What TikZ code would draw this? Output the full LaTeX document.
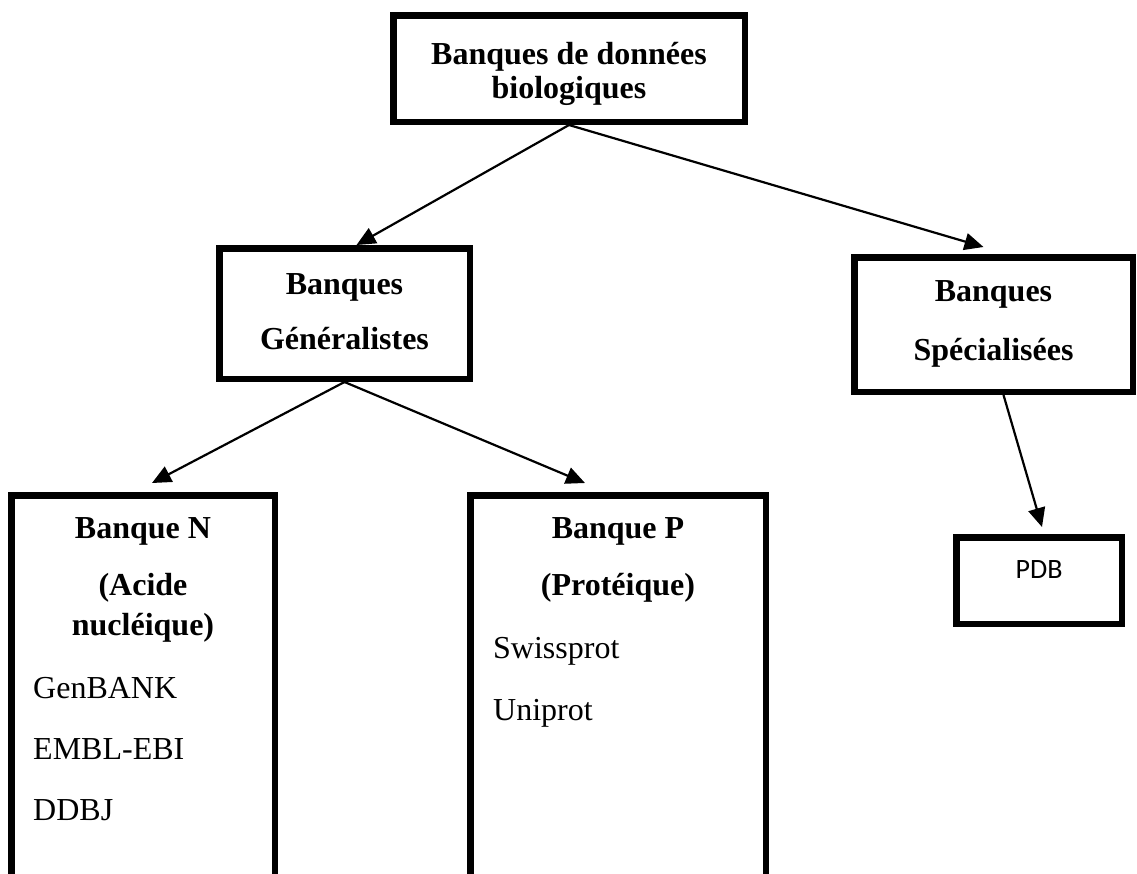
\documentclass[tikz,border=0pt]{standalone}
\usepackage{fontspec}
\setmainfont{Liberation Serif}
\newfontfamily\pdbfont{Carlito}
\usetikzlibrary{arrows.meta}
\begin{document}
\begin{tikzpicture}[x=1pt,y=-1pt,
  box/.style={draw=black, line width=6.5pt, rectangle, inner sep=0pt, outer sep=3.25pt},
  hd/.style={font=\fontsize{32}{38}\selectfont\bfseries, inner sep=0pt, anchor=base},
  item/.style={font=\fontsize{32}{38}\selectfont, inner sep=0pt, anchor=base west},
  pdbtxt/.style={font=\fontsize{28}{34}\selectfont\pdbfont, inner sep=0pt, anchor=base},
  arr/.style={-{Triangle[length=19pt,width=17pt]}, line width=2.2pt}
]
\useasboundingbox (0,0) rectangle (1137,873);
\fill[white] (0,0) rectangle (1137,873);
\clip (0,0) rectangle (1137,873);

% boxes
\node[box, minimum width=351.5pt, minimum height=106.5pt] (top) at (569,68.5) {};
\node[box, minimum width=250.5pt, minimum height=130.5pt] (gen) at (344.5,313.5) {};
\node[box, minimum width=278.5pt, minimum height=134.5pt] (spec) at (993.5,324.5) {};
\node[box, minimum width=165.5pt, minimum height=86.5pt] (pdb) at (1039,580.5) {};
\node[box, minimum width=263.5pt, minimum height=501.5pt] (nbox) at (143,746) {};
\node[box, minimum width=295.5pt, minimum height=501.5pt] (pbox) at (618,746) {};

% texts
\node[hd] (t1) at (569,64) {Banques de données};
\node[hd] (t2) at (569,98) {biologiques};
\node[hd] (g1) at (344.5,294) {Banques};
\node[hd] (g2) at (344.5,349) {Généralistes};
\node[hd] (s1) at (993.5,301) {Banques};
\node[hd] (s2) at (993.5,360) {Spécialisées};
\node[hd] (n1) at (143,538) {Banque N};
\node[hd] (n2) at (143,595) {(Acide};
\node[hd] (n3) at (143,635) {nucléique)};
\node[item] (n4) at (33,698) {GenBANK};
\node[item] (n5) at (33,759) {EMBL-EBI};
\node[item] (n6) at (33,820) {DDBJ};
\node[hd] (p1) at (618,538) {Banque P};
\node[hd] (p2) at (618,595) {(Protéique)};
\node[item] (p3) at (493,658) {Swissprot};
\node[item] (p4) at (493,720) {Uniprot};
\node[pdbtxt] (pd) at (1039,578) {PDB};

% connectors
\draw[arr] (top.south) -- ([xshift=12pt]gen.north);
\draw[arr] (top.south) -- ([xshift=-10pt,yshift=7pt]spec.north);
\draw[arr] (gen.south) -- ([xshift=9pt,yshift=9pt]nbox.north);
\draw[arr] (gen.south) -- ([xshift=-33pt,yshift=9pt]pbox.north);
\draw[arr] ([xshift=10pt]spec.south) -- ([xshift=3pt,yshift=7pt]pdb.north);
\end{tikzpicture}
\end{document}
